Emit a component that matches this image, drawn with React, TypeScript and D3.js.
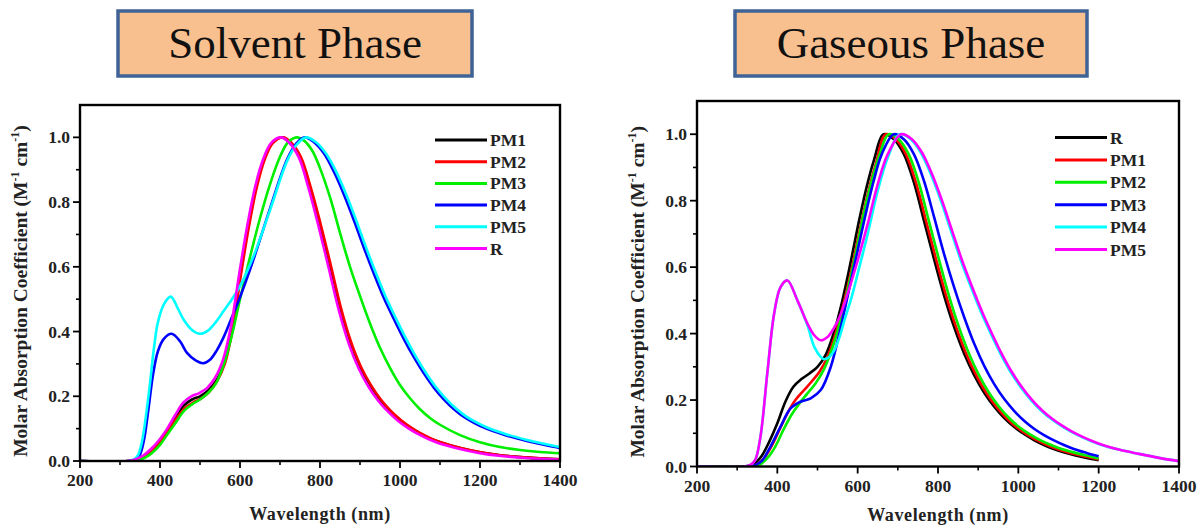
import React from "react";
import * as d3 from "d3";

type Pt = [number, number];

// ---------- Tick values / labels ----------
const xMajorTicks = [200, 400, 600, 800, 1000, 1200, 1400];
const xMinorTicks = [300, 500, 700, 900, 1100, 1300];
const yMajorTicks = [0, 0.2, 0.4, 0.6, 0.8, 1.0];
const yMinorTicks = [0.1, 0.3, 0.5, 0.7, 0.9];

// ---------- Solvent phase series ----------
const solventPM1: Pt[] = [[200,0],[320,0],[340,0.005],[360,0.016],[380,0.036],[400,0.062],[420,0.097],[440,0.137],[460,0.172],[480,0.19],[500,0.2],[520,0.217],[540,0.247],[560,0.3],[580,0.41],[600,0.572],[620,0.722],[640,0.846],[660,0.932],[680,0.982],[705,1.0],[725,0.985],[750,0.94],[775,0.845],[800,0.73],[825,0.605],[850,0.475],[875,0.37],[900,0.292],[925,0.235],[950,0.19],[975,0.155],[1000,0.127],[1025,0.104],[1050,0.085],[1075,0.07],[1100,0.058],[1150,0.04],[1200,0.027],[1250,0.018],[1300,0.012],[1350,0.008],[1400,0.005]];
const solventPM2: Pt[] = [[200,0],[322,0],[342,0.005],[362,0.016],[382,0.036],[402,0.062],[422,0.096],[442,0.133],[462,0.163],[482,0.18],[502,0.193],[522,0.212],[542,0.245],[562,0.3],[582,0.41],[602,0.572],[622,0.722],[642,0.846],[662,0.932],[682,0.982],[707,1.0],[727,0.985],[752,0.94],[777,0.845],[802,0.73],[827,0.605],[852,0.475],[877,0.37],[902,0.292],[927,0.235],[952,0.19],[977,0.155],[1002,0.127],[1027,0.104],[1052,0.085],[1077,0.07],[1102,0.058],[1152,0.04],[1202,0.027],[1252,0.018],[1302,0.012],[1352,0.008],[1400,0.005]];
const solventPM3: Pt[] = [[200,0],[335,0],[350,0.004],[365,0.012],[380,0.025],[400,0.05],[420,0.085],[440,0.12],[460,0.155],[480,0.175],[500,0.19],[520,0.21],[540,0.24],[560,0.3],[580,0.39],[600,0.5],[625,0.63],[650,0.75],[675,0.855],[700,0.94],[720,0.985],[742,1.0],[760,0.99],[780,0.96],[800,0.905],[825,0.815],[850,0.705],[875,0.6],[900,0.51],[925,0.425],[950,0.35],[975,0.288],[1000,0.235],[1025,0.194],[1050,0.16],[1075,0.133],[1100,0.112],[1150,0.08],[1200,0.058],[1250,0.043],[1300,0.034],[1350,0.028],[1400,0.024]];
const solventPM4: Pt[] = [[200,0],[325,0],[340,0.005],[350,0.02],[360,0.065],[370,0.15],[383,0.27],[395,0.34],[410,0.378],[429,0.393],[450,0.37],[467,0.335],[490,0.31],[508,0.302],[525,0.313],[542,0.342],[560,0.385],[580,0.445],[600,0.506],[633,0.62],[675,0.78],[717,0.93],[740,0.98],[762,1.0],[785,0.985],[810,0.95],[835,0.893],[860,0.823],[885,0.743],[910,0.658],[935,0.578],[960,0.503],[985,0.438],[1010,0.376],[1035,0.32],[1060,0.27],[1085,0.226],[1110,0.19],[1135,0.16],[1160,0.136],[1185,0.118],[1210,0.103],[1260,0.081],[1310,0.064],[1360,0.05],[1400,0.04]];
const solventPM5: Pt[] = [[200,0],[320,0],[335,0.005],[345,0.018],[355,0.06],[365,0.14],[375,0.24],[385,0.35],[395,0.43],[410,0.485],[427,0.508],[445,0.47],[460,0.435],[480,0.405],[500,0.393],[520,0.403],[540,0.43],[560,0.465],[580,0.5],[600,0.54],[633,0.63],[675,0.775],[717,0.925],[740,0.975],[765,1.0],[790,0.985],[815,0.95],[840,0.895],[865,0.825],[890,0.745],[915,0.66],[940,0.58],[965,0.505],[990,0.44],[1015,0.378],[1040,0.322],[1065,0.272],[1090,0.228],[1115,0.192],[1140,0.162],[1165,0.138],[1190,0.12],[1215,0.105],[1265,0.083],[1315,0.066],[1365,0.052],[1400,0.043]];
const solventR: Pt[] = [[200,0],[318,0],[338,0.005],[358,0.017],[378,0.038],[398,0.065],[418,0.1],[438,0.142],[458,0.18],[478,0.2],[498,0.21],[518,0.226],[538,0.258],[558,0.315],[578,0.42],[598,0.578],[618,0.726],[638,0.848],[658,0.933],[678,0.983],[702,1.0],[722,0.985],[747,0.938],[772,0.84],[797,0.722],[822,0.595],[847,0.466],[872,0.362],[897,0.285],[922,0.228],[947,0.184],[972,0.15],[997,0.122],[1022,0.1],[1047,0.082],[1072,0.067],[1097,0.055],[1147,0.038],[1197,0.025],[1247,0.016],[1297,0.011],[1347,0.007],[1400,0.004]];

const solventSeries = [
  { name: "PM1", color: "#000000", data: solventPM1 },
  { name: "PM2", color: "#ff0000", data: solventPM2 },
  { name: "PM3", color: "#00ee00", data: solventPM3 },
  { name: "PM4", color: "#0000ff", data: solventPM4 },
  { name: "PM5", color: "#00ffff", data: solventPM5 },
  { name: "R", color: "#ff00ff", data: solventR },
];

// ---------- Gaseous phase series ----------
const gasR: Pt[] = [[200,0],[320,0],[340,0.006],[360,0.03],[380,0.075],[400,0.13],[420,0.195],[440,0.24],[460,0.263],[480,0.28],[500,0.3],[520,0.335],[540,0.4],[560,0.49],[580,0.6],[600,0.72],[620,0.83],[640,0.92],[665,1.0],[690,0.985],[715,0.94],[740,0.855],[765,0.74],[790,0.625],[815,0.515],[840,0.42],[865,0.34],[890,0.275],[915,0.222],[940,0.18],[965,0.146],[990,0.119],[1015,0.097],[1040,0.079],[1065,0.064],[1090,0.052],[1115,0.042],[1140,0.034],[1170,0.026],[1200,0.019]];
const gasPM1: Pt[] = [[200,0],[325,0],[345,0.004],[365,0.022],[385,0.06],[405,0.11],[425,0.16],[445,0.2],[465,0.228],[485,0.255],[505,0.285],[525,0.33],[545,0.4],[565,0.49],[585,0.595],[605,0.71],[625,0.82],[645,0.91],[670,1.0],[695,0.985],[720,0.94],[745,0.855],[770,0.74],[795,0.625],[820,0.515],[845,0.42],[870,0.34],[895,0.275],[920,0.222],[945,0.18],[970,0.146],[995,0.119],[1020,0.097],[1045,0.08],[1070,0.065],[1095,0.053],[1120,0.044],[1145,0.036],[1175,0.028],[1200,0.021]];
const gasPM2: Pt[] = [[200,0],[335,0],[355,0.005],[375,0.025],[395,0.06],[415,0.11],[435,0.155],[455,0.19],[475,0.22],[495,0.25],[515,0.29],[535,0.35],[555,0.43],[575,0.53],[595,0.64],[615,0.76],[635,0.86],[655,0.94],[677,1.0],[702,0.985],[727,0.94],[752,0.855],[777,0.74],[802,0.625],[827,0.515],[852,0.42],[877,0.34],[902,0.275],[927,0.222],[952,0.18],[977,0.146],[1002,0.119],[1027,0.098],[1052,0.081],[1077,0.067],[1102,0.055],[1127,0.046],[1152,0.038],[1177,0.031],[1200,0.024]];
const gasPM3: Pt[] = [[200,0],[330,0],[345,0.004],[362,0.018],[383,0.06],[408,0.12],[433,0.175],[458,0.195],[483,0.205],[508,0.23],[533,0.3],[558,0.42],[580,0.54],[600,0.65],[620,0.76],[640,0.86],[660,0.94],[690,1.0],[715,0.985],[740,0.94],[765,0.86],[790,0.752],[815,0.64],[840,0.54],[865,0.45],[890,0.37],[915,0.303],[940,0.248],[965,0.203],[990,0.167],[1015,0.137],[1040,0.113],[1065,0.094],[1090,0.078],[1115,0.064],[1140,0.052],[1170,0.041],[1200,0.031]];
const gasPM4: Pt[] = [[200,0],[320,0],[333,0.005],[345,0.02],[358,0.09],[375,0.28],[392,0.46],[408,0.54],[425,0.56],[450,0.5],[475,0.425],[492,0.36],[508,0.33],[517,0.323],[530,0.33],[542,0.35],[555,0.39],[567,0.44],[585,0.51],[600,0.58],[625,0.7],[650,0.83],[675,0.93],[705,1.0],[732,0.985],[757,0.945],[782,0.88],[807,0.8],[832,0.71],[857,0.62],[882,0.54],[907,0.465],[932,0.398],[957,0.336],[982,0.282],[1007,0.237],[1032,0.199],[1057,0.168],[1082,0.143],[1107,0.122],[1132,0.104],[1157,0.089],[1182,0.076],[1207,0.065],[1250,0.051],[1300,0.038],[1350,0.026],[1400,0.016]];
const gasPM5: Pt[] = [[200,0],[320,0],[333,0.005],[345,0.02],[358,0.09],[375,0.28],[392,0.46],[408,0.54],[425,0.56],[450,0.5],[475,0.43],[492,0.395],[508,0.38],[525,0.39],[540,0.415],[555,0.45],[575,0.52],[600,0.62],[625,0.73],[650,0.85],[675,0.94],[708,1.0],[735,0.985],[760,0.945],[785,0.88],[810,0.8],[835,0.71],[860,0.62],[885,0.54],[910,0.465],[935,0.398],[960,0.336],[985,0.282],[1010,0.237],[1035,0.199],[1060,0.168],[1085,0.143],[1110,0.122],[1135,0.104],[1160,0.089],[1185,0.076],[1210,0.065],[1250,0.051],[1300,0.038],[1350,0.026],[1400,0.016]];

const gasSeries = [
  { name: "R", color: "#000000", data: gasR },
  { name: "PM1", color: "#ff0000", data: gasPM1 },
  { name: "PM2", color: "#00ee00", data: gasPM2 },
  { name: "PM3", color: "#0000ff", data: gasPM3 },
  { name: "PM4", color: "#00ffff", data: gasPM4 },
  { name: "PM5", color: "#ff00ff", data: gasPM5 },
];

const titles = ["Solvent Phase", "Gaseous Phase"];

const SERIF = "'Liberation Serif', 'Times New Roman', serif";

type Series = { name: string; color: string; data: Pt[] };

function Panel(props: {
  id: string;
  x0: number; x1: number; yTop: number; yBottom: number;
  series: Series[];
  legendX: number; legendY: number; legendStep: number;
  xTitleY: number; yTitleX: number;
}) {
  const { id, x0, x1, yTop, yBottom, series, legendX, legendY, legendStep, xTitleY, yTitleX } = props;
  const x = d3.scaleLinear().domain([200, 1400]).range([x0, x1]);
  const y = d3.scaleLinear().domain([0, 1.1]).range([yBottom, yTop]);
  const line = d3.line<Pt>().x(d => x(d[0])).y(d => y(d[1])).curve(d3.curveCatmullRom.alpha(0.5));
  const yMid = (yTop + yBottom) / 2 + 8;
  return (
    <g>
      <defs>
        <clipPath id={id}>
          <rect x={x0} y={yTop} width={x1 - x0} height={yBottom - yTop} />
        </clipPath>
      </defs>
      <g clipPath={`url(#${id})`}>
        {series.map(s => (
          <path key={s.name} d={line(s.data) || ""} fill="none" stroke={s.color} strokeWidth={2.6} strokeLinejoin="round" />
        ))}
      </g>
      <rect x={x0} y={yTop} width={x1 - x0} height={yBottom - yTop} fill="none" stroke="#000" strokeWidth={2.4} />
      {xMajorTicks.map(t => (
        <g key={"xM" + t}>
          <line x1={x(t)} x2={x(t)} y1={yBottom} y2={yBottom + 7} stroke="#000" strokeWidth={1.8} />
          <text x={x(t)} y={yBottom + 25} textAnchor="middle" fontFamily={SERIF} fontWeight="bold" fontSize={17.5} fill="#222">{t}</text>
        </g>
      ))}
      {xMinorTicks.map(t => (
        <line key={"xm" + t} x1={x(t)} x2={x(t)} y1={yBottom} y2={yBottom + 4} stroke="#000" strokeWidth={1.6} />
      ))}
      {yMajorTicks.map(t => (
        <g key={"yM" + t}>
          <line x1={x0 - 7} x2={x0} y1={y(t)} y2={y(t)} stroke="#000" strokeWidth={1.8} />
          <text x={x0 - 10} y={y(t) + 6} textAnchor="end" fontFamily={SERIF} fontWeight="bold" fontSize={17.5} fill="#222">{t.toFixed(1)}</text>
        </g>
      ))}
      {yMinorTicks.map(t => (
        <line key={"ym" + t} x1={x0 - 4} x2={x0} y1={y(t)} y2={y(t)} stroke="#000" strokeWidth={1.6} />
      ))}
      <text x={(x0 + x1) / 2} y={xTitleY} textAnchor="middle" fontFamily={SERIF} fontWeight="bold" fontSize={18} letterSpacing={0.6} fill="#222">Wavelength (nm)</text>
      <text transform={`translate(${yTitleX},${yMid}) rotate(-90)`} textAnchor="middle" fontFamily={SERIF} fontWeight="bold" fontSize={19.5} fill="#222">
        Molar Absorption Coefficient (M<tspan fontSize={12} dy={-8}>-1</tspan><tspan dy={8}> cm</tspan><tspan fontSize={12} dy={-8}>-1</tspan><tspan dy={8}>)</tspan>
      </text>
      {series.map((s, i) => (
        <g key={"lg" + s.name}>
          <line x1={legendX} x2={legendX + 52} y1={legendY + i * legendStep} y2={legendY + i * legendStep} stroke={s.color} strokeWidth={3} />
          <text x={legendX + 55} y={legendY + i * legendStep + 6} fontFamily={SERIF} fontWeight="bold" fontSize={17.5} fill="#222">{s.name}</text>
        </g>
      ))}
    </g>
  );
}

function TitleBox({ x, y, w, h, label }: { x: number; y: number; w: number; h: number; label: string }) {
  return (
    <g>
      <rect x={x} y={y} width={w} height={h} fill="#f9c08f" stroke="#3f6397" strokeWidth={3.5} />
      <text x={x + w / 2} y={y + 47} textAnchor="middle" fontFamily={SERIF} fontSize={45} fill="#111">{label}</text>
    </g>
  );
}

export default function App() {
  return (
    <svg width={1200} height={526} style={{ position: "absolute", left: 0, top: 0, background: "#fff" }}>
      <rect x={0} y={0} width={1200} height={526} fill="#fff" />
      <TitleBox x={118} y={11} w={354} h={65} label={titles[0]} />
      <TitleBox x={735} y={11} w={352} h={65} label={titles[1]} />
      <Panel id="clipL" x0={80} x1={560} yTop={105} yBottom={461} series={solventSeries}
        legendX={435} legendY={140} legendStep={21.7} xTitleY={520} yTitleX={27} />
      <Panel id="clipR" x0={697} x1={1179} yTop={101} yBottom={466.5} series={gasSeries}
        legendX={1055} legendY={137.5} legendStep={22.4} xTitleY={521} yTitleX={644} />
    </svg>
  );
}
